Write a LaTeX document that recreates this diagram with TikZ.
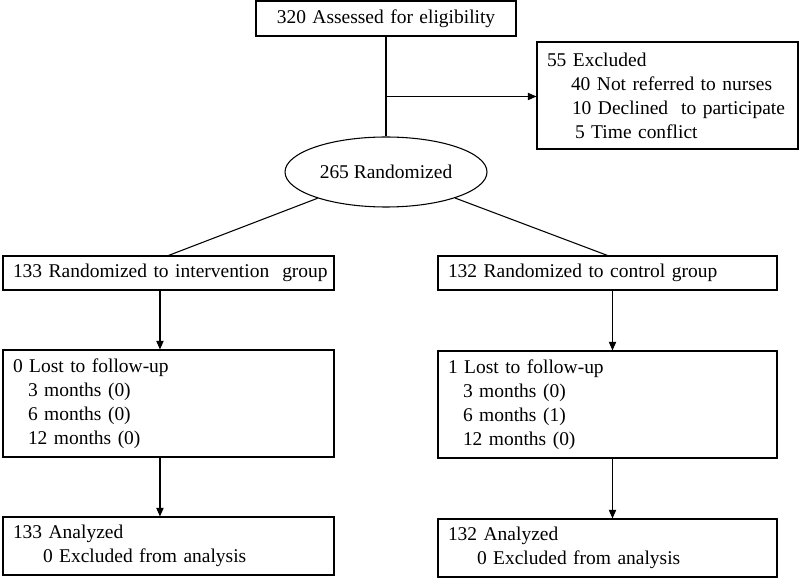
\documentclass[tikz,border=0pt]{standalone}
\usepackage{fontspec}
\setmainfont{Liberation Serif}
\usetikzlibrary{calc,arrows.meta,shapes.geometric}

\begin{document}
\begin{tikzpicture}[x=0.75pt,y=-0.75pt,
  box/.style={draw,rectangle,line width=0.8pt,inner xsep=7.5pt,inner ysep=1pt,align=left,text width=#1,font=\fontsize{14.6}{18}\selectfont},
  flow/.style={-{Triangle[length=6.5pt,width=5.5pt]},line width=0.8pt}]
\useasboundingbox (0,0) rectangle (799,584);

\draw node [box=180pt,align=center,minimum height=26.25pt] (assessed) at (386,18.5){320 Assessed for eligibility};
\draw node [box=180.75pt,minimum height=80.25pt] (excl) at (667.5,95.5){55 Excluded\\
  \hspace*{18pt}40 Not referred to nurses\\
  \hspace*{18.75pt}10 Declined\ \ to participate\\
  \hspace*{21pt}5 Time conflict};
\draw node [draw,ellipse,line width=0.8pt,minimum width=151.5pt,minimum height=52.5pt,inner sep=0pt,font=\fontsize{14.6}{18}\selectfont] (rand) at (386,172){265 Randomized};

\draw node [box=233.25pt,minimum height=25.5pt] (intgrp) at (168.5,273){\mbox{133 Randomized to intervention\ \ group}};
\draw node [box=239.25pt,minimum height=25.5pt] (ctlgrp) at (607.5,273){\mbox{132 Randomized to control group}};

\draw node [box=233.25pt,minimum height=80.25pt] (intlost) at (168.5,403.5){0 Lost to follow-up\\
  \hspace*{11.25pt}3 months (0)\\
  \hspace*{11.25pt}6 months (0)\\
  \hspace*{11.25pt}12 months (0)};
\draw node [box=239.25pt,minimum height=80.25pt] (ctllost) at (607.5,404.5){1 Lost to follow-up\\
  \hspace*{11.25pt}3 months (0)\\
  \hspace*{11.25pt}6 months (1)\\
  \hspace*{11.25pt}12 months (0)};

\draw node [box=233.25pt,minimum height=43.5pt] (intana) at (168.5,546){133 Analyzed\\
  \hspace*{22.5pt}0 Excluded from analysis};
\draw node [box=239.25pt,minimum height=43.5pt] (ctlana) at (607.5,548){132 Analyzed\\
  \hspace*{21.75pt}0 Excluded from analysis};

\draw[line width=0.8pt] (assessed) -- (rand);
\coordinate (split) at ($(assessed.south)!0.6!(rand.north)$);
\draw[flow] (split) -- (split -| excl.west);

\draw[line width=0.8pt] (rand) -- (intgrp.north);
\draw[line width=0.8pt] (rand) -- (ctlgrp.north);

\draw[flow] ([xshift=-6.4pt]intgrp.south) -- ([xshift=-6.4pt]intlost.north);
\draw[flow] ([xshift=-6.4pt]intlost.south) -- ([xshift=-6.4pt]intana.north);
\draw[flow] ([xshift=3.75pt]ctlgrp.south) -- ([xshift=3.75pt]ctllost.north);
\draw[flow] ([xshift=3.75pt]ctllost.south) -- ([xshift=3.75pt]ctlana.north);

\end{tikzpicture}
\end{document}
